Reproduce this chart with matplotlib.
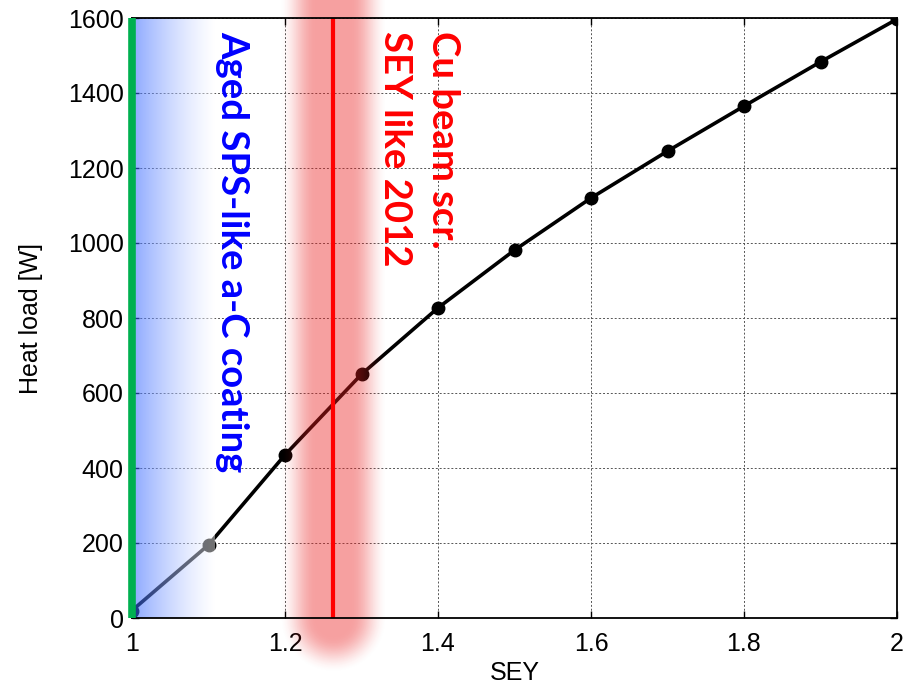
"""Heat load vs SEY with the aged a-C and Cu beam screen bands."""

import numpy as np
from matplotlib import pyplot as plt

# data
sey = [1.0, 1.1, 1.2, 1.3, 1.4, 1.5, 1.6, 1.7, 1.8, 1.9, 2.0]
heat_load = [20, 195, 435, 650, 827, 981, 1120, 1245, 1365, 1483, 1597]
sey_cu_2012 = 1.263
sey_aged_ac = 1.0
blue_band_end = 1.108

label_ac = 'Aged SPS-like a-C coating'
label_cu_1 = 'Cu beam scr.'
label_cu_2 = 'SEY like 2012'

plt.rcParams['font.family'] = ['Liberation Sans', 'DejaVu Sans']

fig = plt.figure(figsize=(9.2, 6.91), dpi=100)
ax = fig.add_axes([132 / 920, 1 - 618 / 691, 765 / 920, 600 / 691])

ax.grid(True, color='#555555', linestyle=(0, (2, 2)), linewidth=0.7, zorder=0)
ax.set_axisbelow(True)

# main curve
ax.plot(sey, heat_load, color='black', linewidth=2.6, marker='o', markersize=9, zorder=3)

# blue gradient band over the low SEY region (drawn on top of the curve)
nx = 200
t = np.linspace(0, 1, nx)
c0 = np.array([0.18, 0.38, 1.0])
c1 = np.array([1.0, 1.0, 1.0])
a_blue = 0.55 + (0.45 - 0.55) * t
w = (1 - t[:, None]) ** 1.2
rgb = c0[None, :] * w + c1[None, :] * (1 - w)
blue_img = np.zeros((1, nx, 4))
blue_img[0, :, :3] = rgb
blue_img[0, :, 3] = a_blue
ax.imshow(blue_img, extent=[sey_aged_ac, blue_band_end, 0, 1600], aspect='auto',
          interpolation='bilinear', zorder=4)

# red glow around the Cu beam screen SEY (pixel-based capsule shape)
gx = np.linspace(1.17, 1.36, 220)
gy = np.linspace(-150, 1750, 600)
GX, GY = np.meshgrid(gx, gy)
px = (GX - sey_cu_2012) * 765
py = GY * 0.375
py_bottom = -5 * 0.375
dy = np.where(py < py_bottom, py_bottom - py, 0)
dist = np.sqrt(px ** 2 + dy ** 2)
alpha = np.clip((54 - dist) / 36, 0, 1)
alpha = alpha * alpha * (3 - 2 * alpha) * 0.42
glow = np.zeros(GX.shape + (4,))
glow[..., 0] = 0.92
glow[..., 1] = 0.12
glow[..., 2] = 0.12
glow[..., 3] = alpha
ax.imshow(glow, extent=[gx[0], gx[-1], gy[0], gy[-1]], origin='lower', aspect='auto',
          interpolation='bilinear', zorder=5, clip_on=False)

ax.axvline(sey_cu_2012, color='red', linewidth=3, zorder=6)

ax.set_xlim(1, 2)
ax.set_ylim(0, 1600)

# labels in the plot
font_lbl = dict(rotation=-90, ha='center', va='top', fontsize=27.5, fontweight='bold',
                family=['Lato', 'DejaVu Sans'], zorder=8)
ax.text(1.131, 1565, label_ac, color='#0000ff', **font_lbl)
ax.text(1.4065, 1565, label_cu_1, color='#ff0000', **font_lbl)
ax.text(1.344, 1565, label_cu_2, color='#ff0000', **font_lbl)

ax.set_xticks([1, 1.2, 1.4, 1.6, 1.8, 2])
ax.set_xticklabels(['1', '1.2', '1.4', '1.6', '1.8', '2'])
ax.set_yticks(np.arange(0, 1601, 200))
ax.tick_params(direction='in', top=True, right=True, length=5, width=1, labelsize=18)
ax.tick_params(axis='x', pad=10)
ax.tick_params(axis='y', pad=6)
for spine in ax.spines.values():
    spine.set_linewidth(1.3)
    spine.set_zorder(9)

# green marker line for the aged a-C SEY, on top of the left spine
ax.plot([sey_aged_ac, sey_aged_ac], [0, 1600], color='#00b050', linewidth=5.5,
        solid_capstyle='butt', zorder=10, clip_on=False)

ax.set_xlabel('SEY', fontsize=18, labelpad=4)
ax.set_ylabel('Heat load [W]', fontsize=18, labelpad=18)

fig.savefig('out.png', dpi=100)
